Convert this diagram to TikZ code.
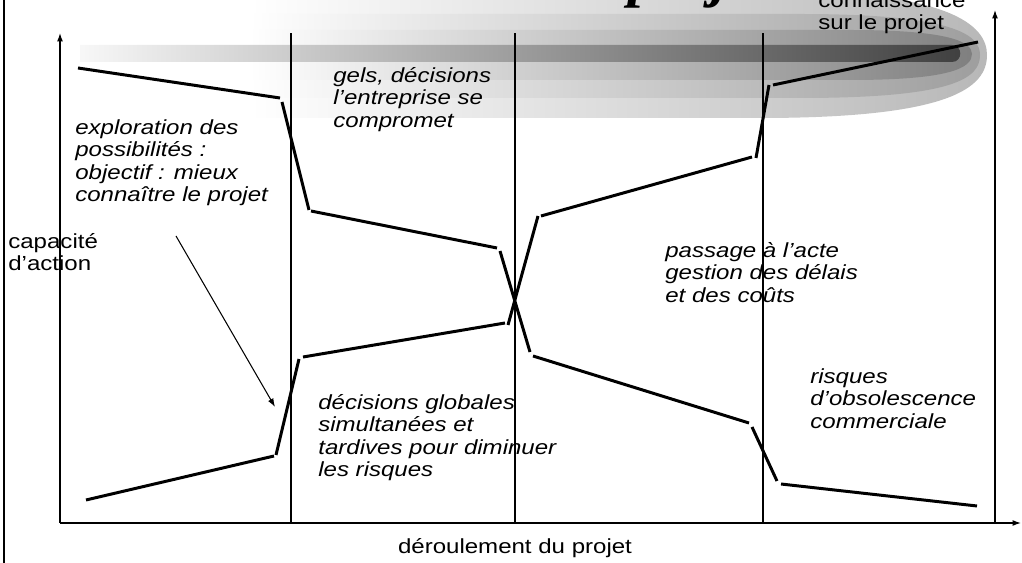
\documentclass[tikz,border=0pt]{standalone}
\usepackage{fontspec}
\setmainfont{Liberation Sans}[FakeStretch=1.18]
\newfontfamily\titrefont{Liberation Serif}
\usetikzlibrary{arrows.meta}
\tikzset{
  axe/.style={line width=0.7pt, -{Latex[length=1.7mm,width=1.2mm]}},
  phase/.style={line width=0.7pt},
  courbe/.style={line width=1.7pt},
  fleche/.style={line width=0.6pt, -{Latex[length=1.7mm,width=1.2mm]}},
  texte/.style={anchor=north west, align=left, inner sep=0pt,
    font=\fontsize{11.6}{12.8}\selectfont, execute at begin node=\strut},
  comment/.style={texte, font=\fontsize{11.6}{12.8}\selectfont\itshape},
}
\begin{document}
\begin{tikzpicture}[x=0.02cm, y=-0.02cm]
\useasboundingbox (0,0) rectangle (1022,563);
% nuage de connaissance
\shade[left color=white, middle color=black!5, right color=black!28] (250,-10) -- (760,-10) .. controls (950,-10) and (987,25) .. (987,55) .. controls (987,88) and (950,118) .. (760,118) -- (250,118) -- cycle;
\shade[left color=white, middle color=black!7, right color=black!38] (250,14) -- (800,14) .. controls (955,14) and (980,35) .. (980,55) .. controls (980,78) and (955,98) .. (800,98) -- (250,98) -- cycle;
\shade[left color=white, middle color=black!9, right color=black!50] (250,30) -- (850,30) .. controls (950,30) and (972,42) .. (972,54) .. controls (972,68) and (950,80) .. (850,80) -- (250,80) -- cycle;
\shade[left color=black!3, middle color=black!11, right color=black!75] (80,45) -- (952,45) .. controls (963,45) and (963,62) .. (952,62) -- (80,62) -- cycle;
\node[anchor=base west, inner sep=0pt, font=\titrefont\bfseries\itshape\fontsize{34}{40}\selectfont] (titre) at (628,-4) {projet};
% cadre et axes
\draw[line width=1.7pt] (4,0) -- (4,563);
\coordinate (O) at (60,523);
\coordinate (ytop) at (60,33);
\coordinate (xend) at (1021,523);
\coordinate (kbas) at (995,523);
\coordinate (khaut) at (995,10);
\draw[axe] (O) -- (ytop);
\draw[axe] (O) -- (xend);
\draw[axe] (kbas) -- (khaut);
\foreach \x in {291,515,763}
  \draw[phase] (\x,523) -- (\x,33);
% capacite d'action
\draw[courbe] (78,68) -- (280,98);
\draw[courbe] (282,102) -- (309,210);
\draw[courbe] (311,211) -- (497,248);
\draw[courbe] (500,251) -- (530,352);
\draw[courbe] (533,356) -- (749,423);
\draw[courbe] (752,427) -- (777,481);
\draw[courbe] (781,484) -- (977,506);
% connaissance
\draw[courbe] (86,500) -- (274,456);
\draw[courbe] (276,455) -- (299,359);
\draw[courbe] (303,357) -- (505,323);
\draw[courbe] (508,325) -- (538,216);
\draw[courbe] (541,216) -- (752,157);
\draw[courbe] (756,158) -- (769,85);
\draw[courbe] (773,85) -- (978,42);
% textes
\node[texte] (conn) at (818,-8) {connaissance\\sur le projet};
\node[texte] (capa) at (8,233) {capacité\\d'action};
\node[anchor=base, inner sep=0pt, font=\fontsize{11.6}{12.8}\selectfont] (deroul) at (515,554) {déroulement du projet};
\node[comment] (gels) at (333,67) {gels, décisions\\l'entreprise se\\compromet};
\node[comment] (explo) at (75,119) {exploration des\\possibilités :\\objectif : mieux\\connaître le projet};
\node[comment] (passage) at (665,242) {passage à l'acte\\gestion des délais\\et des coûts};
\node[comment] (globales) at (318,394) {décisions globales\\simultanées et\\tardives pour diminuer\\les risques};
\node[comment] (risques) at (810,368) {risques\\d'obsolescence\\commerciale};
\coordinate (fdep) at (176,236);
\coordinate (fbout) at (275,407);
\draw[fleche] (fdep) -- (fbout);
\end{tikzpicture}
\end{document}
